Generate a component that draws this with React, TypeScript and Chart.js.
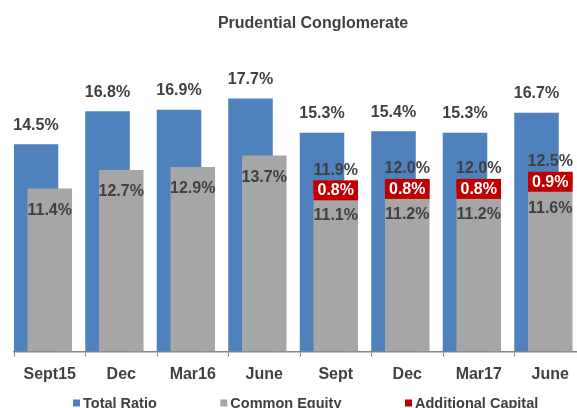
import React, { useEffect, useRef } from 'react';
import { Chart, registerables } from 'chart.js';

Chart.register(...registerables);

// ---- data ----
const categories = ['Sept15', 'Dec', 'Mar16', 'June', 'Sept', 'Dec', 'Mar17', 'June'];
const totalRatio = [14.5, 16.8, 16.9, 17.7, 15.3, 15.4, 15.3, 16.7];
const commonEquity = [11.4, 12.7, 12.9, 13.7, 11.1, 11.2, 11.2, 11.6];
const additionalCapital: (number | null)[] = [null, null, null, null, 0.8, 0.8, 0.8, 0.9];
const seriesNames = ['Total Ratio', 'Common Equity', 'Additional Capital'];
const chartTitle = 'Prudential Conglomerate';
const yMax = 20;

// ---- styles ----
const BLUE = '#4F81BD';
const GRAY = '#A6A6A6';
const RED = '#C00000';
const TEXT = '#404040';
const AXIS = '#868686';
const FONT = "'Liberation Sans', Arial, Helvetica, sans-serif";

const fmt = (v: number) => v.toFixed(1) + '%';

const valueLabels = {
  id: 'valueLabels',
  afterDatasetsDraw(chart: any) {
    const ctx = chart.ctx;
    const metaT = chart.getDatasetMeta(0);
    const metaC = chart.getDatasetMeta(1);
    const metaA = chart.getDatasetMeta(2);
    ctx.save();
    ctx.font = `bold 16px ${FONT}`;
    ctx.textAlign = 'center';
    ctx.textBaseline = 'middle';
    categories.forEach((_, i) => {
      const t = metaT.data[i];
      const c = metaC.data[i];
      ctx.fillStyle = TEXT;
      ctx.fillText(fmt(totalRatio[i]), t.x, t.y - 19);
      const add = additionalCapital[i];
      if (add != null) {
        const a = metaA.data[i];
        const w = a.width;
        ctx.fillStyle = TEXT;
        ctx.fillText(fmt(commonEquity[i] + add), c.x, a.y - 11);
        ctx.fillStyle = RED;
        ctx.fillRect(a.x - w / 2, a.y - 1, w, 20);
        ctx.fillStyle = '#FFFFFF';
        ctx.fillText(fmt(add), a.x, a.y + 9.5);
        ctx.fillStyle = TEXT;
        ctx.fillText(fmt(commonEquity[i]), c.x, c.y + 23);
      } else {
        ctx.fillStyle = TEXT;
        ctx.fillText(fmt(commonEquity[i]), c.x, c.y + 22);
      }
    });
    ctx.restore();
  },
};

const bottomLegend = {
  id: 'bottomLegend',
  afterDraw(chart: any) {
    const ctx = chart.ctx;
    const colors = [BLUE, GRAY, RED];
    ctx.save();
    ctx.font = `bold 14.5px ${FONT}`;
    ctx.textAlign = 'left';
    ctx.textBaseline = 'alphabetic';
    let x = 73;
    seriesNames.forEach((name, i) => {
      ctx.fillStyle = colors[i];
      ctx.fillRect(x, 399.5, 7, 7);
      ctx.fillStyle = TEXT;
      ctx.fillText(name, x + 10, 408);
      x += 10 + ctx.measureText(name).width + 63.5;
    });
    ctx.restore();
  },
};

export default function App() {
  const canvasRef = useRef<HTMLCanvasElement | null>(null);

  useEffect(() => {
    if (!canvasRef.current) return;
    Chart.defaults.font.family = FONT;
    const chart = new Chart(canvasRef.current, {
      type: 'bar',
      data: {
        labels: categories,
        datasets: [
          {
            label: seriesNames[0],
            data: totalRatio,
            backgroundColor: BLUE,
            stack: 'a',
            order: 2,
            grouped: true,
            categoryPercentage: 0.769,
            barPercentage: 1.62,
          },
          {
            label: seriesNames[1],
            data: commonEquity,
            backgroundColor: GRAY,
            stack: 'b',
            order: 0,
            grouped: false,
            categoryPercentage: 1,
            barPercentage: 0.623,
          },
          {
            label: seriesNames[2],
            data: additionalCapital,
            backgroundColor: RED,
            stack: 'b',
            order: 1,
            grouped: false,
            categoryPercentage: 1,
            barPercentage: 0.623,
          },
          {
            label: '',
            data: categories.map(() => null),
            backgroundColor: 'rgba(0,0,0,0)',
            stack: 'c',
            order: 3,
            grouped: true,
            categoryPercentage: 0.769,
            barPercentage: 1.62,
          },
        ],
      },
      options: {
        responsive: false,
        animation: false,
        layout: { padding: { left: 14, right: 0, top: 0, bottom: 16.3 } },
        plugins: {
          legend: { display: false },
          tooltip: { enabled: false },
          title: {
            display: true,
            text: chartTitle,
            color: TEXT,
            font: { size: 16, weight: 'bold', family: FONT },
            padding: { top: 14, bottom: 32.3 },
          },
        },
        scales: {
          x: {
            stacked: true,
            offset: true,
            grid: {
              display: true,
              offset: true,
              drawOnChartArea: false,
              drawTicks: true,
              tickLength: 5,
              color: AXIS,
            },
            border: { display: true, color: AXIS, width: 1.5 },
            ticks: {
              color: TEXT,
              padding: 8,
              font: { size: 16, weight: 'bold', family: FONT },
              maxRotation: 0,
              autoSkip: false,
            },
          },
          y: {
            stacked: true,
            display: false,
            min: 0,
            max: yMax,
          },
          yr: {
            type: 'linear',
            position: 'right',
            display: true,
            grid: { display: false },
            border: { display: false },
            ticks: { display: false },
            afterFit(scale: any) {
              scale.width = 26;
            },
          },
        },
      },
      plugins: [valueLabels, bottomLegend],
    } as any);
    return () => chart.destroy();
  }, []);

  return (
    <div
      style={{
        position: 'fixed',
        left: 0,
        top: 0,
        width: 577,
        height: 408,
        overflow: 'hidden',
        background: '#FFFFFF',
      }}
    >
      <canvas ref={canvasRef} width={612} height={408} style={{ display: 'block', width: 612, height: 408 }} />
    </div>
  );
}
